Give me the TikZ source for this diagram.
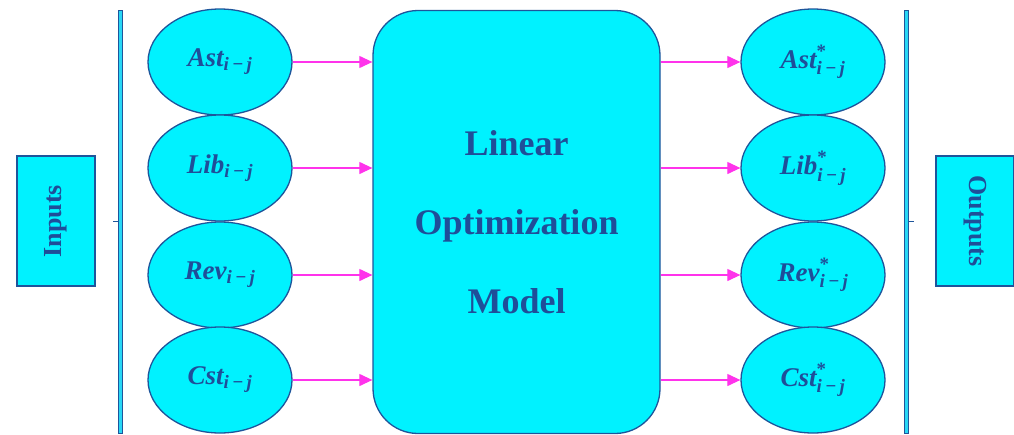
\RequirePackage{fix-cm}
\documentclass[tikz,border=0pt]{standalone}
\usepackage{amsmath}
\usepackage{fontspec}
\setmainfont{Liberation Serif}
\usetikzlibrary{arrows.meta,shapes.geometric}
\definecolor{cyanfill}{RGB}{0,242,255}
\definecolor{edgeblue}{RGB}{30,85,155}
\definecolor{txtblue}{RGB}{31,78,153}
\definecolor{arrmag}{RGB}{255,51,235}
\definecolor{linecyan}{RGB}{40,215,245}
\newcommand{\bi}[1]{\text{\bfseries\itshape #1}}
\newcommand{\vlab}[1]{$\bi{#1}_{\bi{i\,−\,j}}$}
\newcommand{\vlabs}[1]{$\bi{#1}^{\text{\bfseries *}}_{\bi{i\,−\,j}}$}
\tikzset{
  oval/.style={ellipse, draw=edgeblue, line width=1.3pt, fill=cyanfill,
    minimum width=144pt, minimum height=106pt, inner sep=0pt,
    text=txtblue, font=\fontsize{27}{31}\selectfont},
  sidebox/.style={rectangle, draw=edgeblue, line width=2pt, fill=cyanfill,
    minimum width=78pt, minimum height=130pt, inner sep=0pt,
    text=txtblue, font=\fontsize{26}{30}\selectfont\bfseries},
  bigbox/.style={rectangle, rounded corners=45pt, draw=edgeblue, line width=1.3pt,
    fill=cyanfill, minimum width=287pt, minimum height=423pt, inner sep=0pt,
    text=txtblue, align=center, font=\fontsize{36}{79}\selectfont\bfseries},
  flow/.style={draw=arrmag, line width=1.2pt, -{Triangle[length=13pt,width=12pt]}},
  bar/.style={draw=edgeblue, line width=0.4pt, fill=linecyan}
}
\begin{document}
\begin{tikzpicture}[x=1pt,y=-1pt]
\useasboundingbox (0,0) rectangle (1014,434);
% vertical bars
\filldraw[bar] (118.5,10) rectangle (122,433);
\draw[edgeblue, line width=0.6pt] (113,221.5) -- (118.5,221.5);
\filldraw[bar] (904.5,10) rectangle (908,433);
\draw[edgeblue, line width=0.6pt] (908,221.5) -- (914,221.5);
% side boxes
\node[sidebox] (in) at (56,221) {\rotatebox{90}{Inputs}};
\node[sidebox] (out) at (975,221) {\rotatebox{-90}{Outputs}};
% central box
\node[bigbox] (model) at (516.5,222) {Linear\\Optimization\\Model};
% left ellipses
\node[oval] (ast) at (220,62) {\vlab{Ast}};
\node[oval] (lib) at (220,168) {\vlab{Lib}};
\node[oval] (rev) at (220,275) {\vlab{Rev}};
\node[oval] (cst) at (220,380) {\vlab{Cst}};
% right ellipses
\node[oval] (asto) at (813,62) {\vlabs{Ast}};
\node[oval] (libo) at (813,168) {\vlabs{Lib}};
\node[oval] (revo) at (813,275) {\vlabs{Rev}};
\node[oval] (csto) at (813,380) {\vlabs{Cst}};
% arrows
\foreach \n in {ast,lib,rev,cst}{
  \draw[flow] (\n.east) -- (\n.east -| model.west);
}
\foreach \n in {asto,libo,revo,csto}{
  \draw[flow] (\n.west -| model.east) -- (\n.west);
}
\end{tikzpicture}
\end{document}
